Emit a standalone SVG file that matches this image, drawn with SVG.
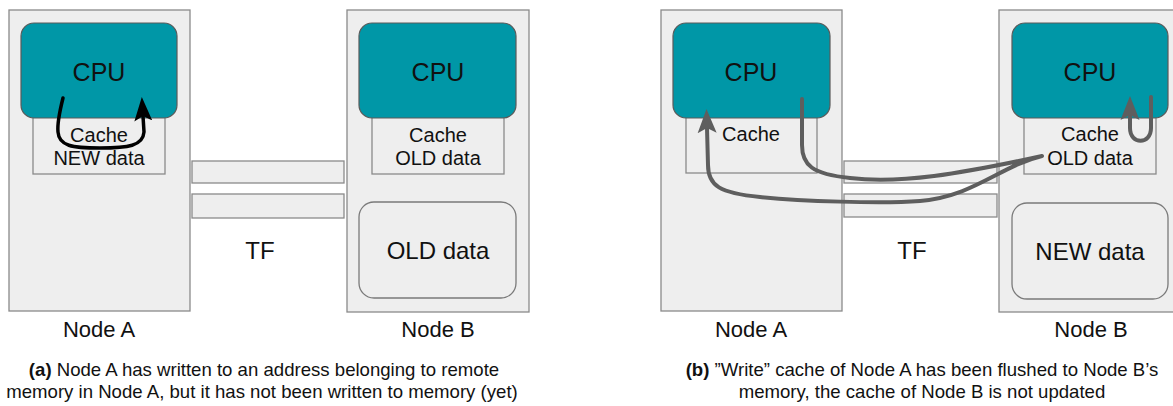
<svg xmlns="http://www.w3.org/2000/svg" width="1173" height="406" viewBox="0 0 1173 406">
  <defs>
    <style>
      .node { fill: #eeeeee; stroke: #8a8a8a; stroke-width: 1.3; }
      .cpu { fill: #0097a7; stroke: #5a5a5a; stroke-width: 1.2; }
      .cache { fill: #eeeeee; stroke: #8a8a8a; stroke-width: 1.3; }
      .mem { fill: #eeeeee; stroke: #7a7a7a; stroke-width: 1.3; }
      .link { fill: #eeeeee; stroke: #8a8a8a; stroke-width: 1.3; }
      text { font-family: "Liberation Sans", Arial, sans-serif; fill: #111; text-anchor: middle; }
      .t-cpu { font-size: 25px; }
      .t-cache { font-size: 20px; }
      .t-mem { font-size: 24px; }
      .t-tf { font-size: 24px; }
      .t-label { font-size: 22px; }
      .t-cap { font-size: 18.6px; }
      .arrow-k { fill: none; stroke: #000; stroke-width: 3.5; stroke-linecap: round; stroke-linejoin: round; }
      .arrow-g { fill: none; stroke: #5e5e5e; stroke-width: 4; stroke-linecap: round; stroke-linejoin: round; }
    </style>
    <marker id="headK" markerUnits="userSpaceOnUse" markerWidth="30" markerHeight="24" refX="5" refY="12" orient="auto" viewBox="0 0 30 24">
      <path d="M0,3 L24,12 L0,21 L5,12 Z" fill="#000"/>
    </marker>
    <marker id="headG" markerUnits="userSpaceOnUse" markerWidth="30" markerHeight="24" refX="5" refY="12" orient="auto" viewBox="0 0 30 24">
      <path d="M0,2.5 L24,12 L0,21.5 L5,12 Z" fill="#5e5e5e"/>
    </marker>
  </defs>

  <!-- ===== Panel (a) ===== -->
  <g id="a-node-a">
    <rect class="node" x="9" y="10" width="181" height="301"/>
    <rect class="cache" x="33" y="100" width="132" height="74"/>
    <rect class="cpu" x="21" y="23" width="156" height="95" rx="13"/>
    <text class="t-cpu" x="99" y="81">CPU</text>
    <text class="t-cache" x="99" y="142">Cache</text>
    <text class="t-cache" x="99" y="165">NEW data</text>
    <text class="t-label" x="99" y="337">Node A</text>
  </g>

  <g id="a-link">
    <rect class="link" x="192" y="161" width="152" height="22"/>
    <rect class="link" x="192" y="194" width="152" height="24"/>
    <text class="t-tf" x="260" y="259">TF</text>
  </g>

  <g id="a-node-b">
    <rect class="node" x="347" y="10" width="182" height="302"/>
    <rect class="cache" x="372" y="100" width="132" height="74"/>
    <rect class="cpu" x="359" y="23" width="157" height="95" rx="13"/>
    <rect class="mem" x="359" y="202" width="157" height="96" rx="15"/>
    <text class="t-cpu" x="438" y="81">CPU</text>
    <text class="t-cache" x="438" y="142">Cache</text>
    <text class="t-cache" x="438" y="165">OLD data</text>
    <text class="t-mem" x="438" y="259">OLD data</text>
    <text class="t-label" x="438" y="337">Node B</text>
  </g>

  <g id="a-caption">
    <text class="t-cap" x="264" y="376"><tspan font-weight="bold">(a)</tspan> Node A has written to an address belonging to remote</text>
    <text class="t-cap" x="262" y="398">memory in Node A, but it has not been written to memory (yet)</text>
  </g>

  <!-- ===== Panel (b) ===== -->
  <g id="b-node-a">
    <rect class="node" x="661" y="10" width="181" height="301"/>
    <rect class="cache" x="686" y="100" width="131" height="73"/>
    <rect class="cpu" x="673" y="23" width="157" height="95" rx="13"/>
    <text class="t-cpu" x="751" y="81">CPU</text>
    <text class="t-cache" x="751" y="141">Cache</text>
    <text class="t-label" x="751" y="337">Node A</text>
  </g>

  <g id="b-link">
    <rect class="link" x="844" y="161" width="153" height="22"/>
    <rect class="link" x="844" y="194" width="153" height="23"/>
    <text class="t-tf" x="912" y="259">TF</text>
  </g>

  <g id="b-node-b">
    <rect class="node" x="999" y="10" width="182" height="302"/>
    <rect class="cache" x="1024" y="100" width="132" height="74"/>
    <rect class="cpu" x="1012" y="23" width="156" height="95" rx="13"/>
    <rect class="mem" x="1012" y="203" width="156" height="96" rx="15"/>
    <text class="t-cpu" x="1090" y="81">CPU</text>
    <text class="t-cache" x="1090" y="141">Cache</text>
    <text class="t-cache" x="1090" y="165">OLD data</text>
    <text class="t-mem" x="1090" y="260">NEW data</text>
    <text class="t-label" x="1091" y="337">Node B</text>
  </g>

  <g id="b-caption">
    <text class="t-cap" x="922" y="376"><tspan font-weight="bold">(b)</tspan> ”Write” cache of Node A has been flushed to Node B’s</text>
    <text class="t-cap" x="922" y="398">memory, the cache of Node B is not updated</text>
  </g>

  <!-- ===== Connectors ===== -->
  <g id="connectors">
    <!-- write into local cache -->
    <path class="arrow-k" marker-end="url(#headK)" d="M63,98 C60,110 57,122 58,132 C59,146 72,148 100,148 C128,148 143,146 144,132 L143,116"/>
    <!-- flush from Node A cache over TF to Node B and back -->
    <path class="arrow-g" marker-end="url(#headG)" d="M802,99 L802,145 C802,165 812,174 850,178 C900,184 960,174 1042,156 C1000,166 975,196 920,201 C880,204 800,201 760,197 C720,193 708,186 708,165 L707,128"/>
    <!-- Node B cache to CPU -->
    <path class="arrow-g" marker-end="url(#headG)" d="M1151,97 L1151,128 C1151,145 1130,145 1130,128 L1130,115"/>
  </g>
</svg>
